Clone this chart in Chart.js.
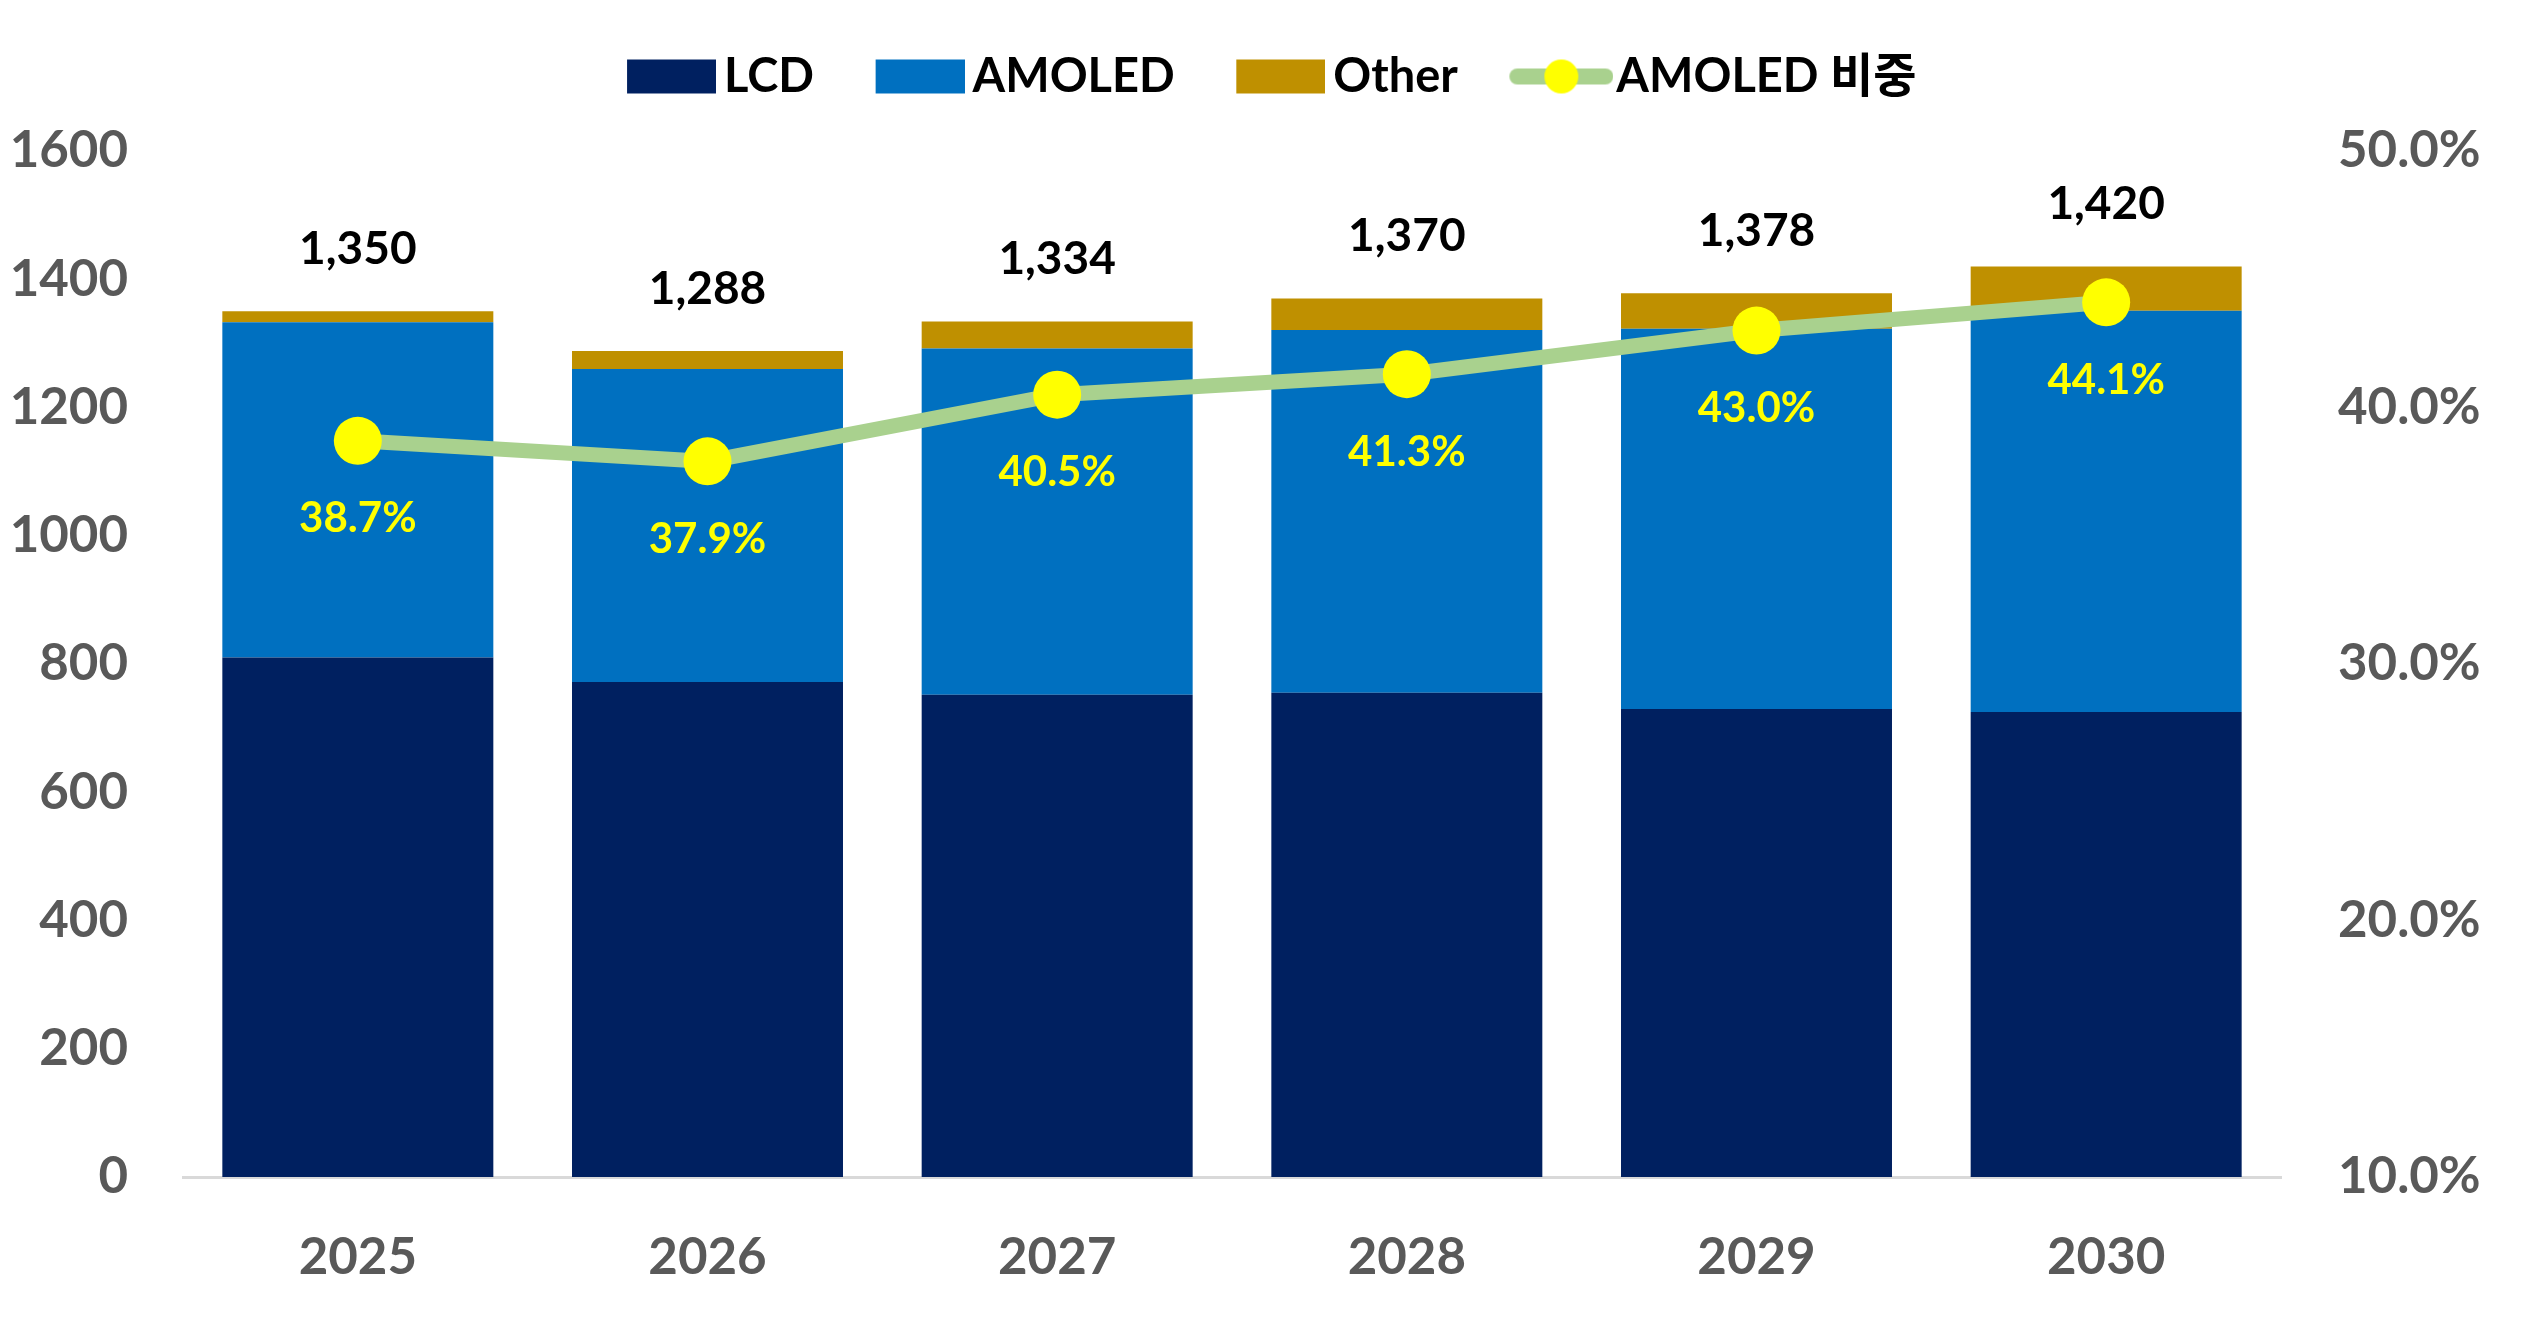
<!DOCTYPE html>
<html>
<head>
<meta charset="utf-8">
<script src="https://cdn.jsdelivr.net/npm/chart.js@4.4.1/dist/chart.umd.min.js"></script>
<style>
  html, body { margin: 0; padding: 0; background: #fff; }
  #wrap { width: 2534px; height: 1323px; position: relative; }
</style>
</head>
<body>
<div id="wrap"><canvas id="chartDisplay"></canvas></div>
<script>
var years = ['2025', '2026', '2027', '2028', '2029', '2030'];
var lcd = [810, 772, 752, 755, 730, 725];
var amoled = [523, 488, 540, 566, 593, 626];
var other = [17, 28, 42, 49, 55, 69];
var amoledShare = [38.7, 37.9, 40.5, 41.3, 43.0, 44.1];
var leftTicks = [0, 200, 400, 600, 800, 1000, 1200, 1400, 1600];
var rightTicks = [10, 20, 30, 40, 50];

(function() {
  var FAMILY = "Lato, 'Noto Sans CJK KR', sans-serif";
  var GRAY = '#595959';
  var colors = { lcd: '#002060', amoled: '#0070C0', other: '#BF9000', line: '#A9D18E', dot: '#FFFF00' };

  // legend icons, drawn centred on the point-style box
  function boxIcon(color) {
    var c = document.createElement('canvas');
    c.width = 114; c.height = 36;
    var g = c.getContext('2d');
    g.fillStyle = color;
    g.fillRect(25, 1, 89, 34);
    return c;
  }
  function lineIcon() {
    var c = document.createElement('canvas');
    c.width = 124; c.height = 40;
    var g = c.getContext('2d');
    g.strokeStyle = colors.line;
    g.lineWidth = 16;
    g.lineCap = 'round';
    g.beginPath(); g.moveTo(28, 20); g.lineTo(116, 20); g.stroke();
    g.fillStyle = colors.dot;
    g.beginPath(); g.arc(72, 20, 17, 0, Math.PI * 2); g.fill();
    return c;
  }

  var legendGap = {
    id: 'legendGap',
    beforeInit: function(chart) {
      var fit = chart.legend.fit;
      chart.legend.fit = function() { fit.call(this); this.height += 41; };
    }
  };

  var valueLabels = {
    id: 'valueLabels',
    afterDatasetsDraw: function(chart) {
      var ctx = chart.ctx;
      var top = chart.getDatasetMeta(2).data;
      var pts = chart.getDatasetMeta(3).data;
      ctx.save();
      ctx.textAlign = 'center';
      ctx.textBaseline = 'middle';
      ctx.font = 'bold 46px ' + FAMILY;
      ctx.fillStyle = '#000000';
      top.forEach(function(bar, i) {
        var total = lcd[i] + amoled[i] + other[i];
        ctx.fillText(total.toLocaleString('en-US'), bar.x, bar.y - 62);
      });
      ctx.font = 'bold 42px ' + FAMILY;
      ctx.fillStyle = colors.dot;
      pts.forEach(function(p, i) {
        ctx.fillText(amoledShare[i].toFixed(1) + '%', p.x, p.y + 78);
      });
      ctx.restore();
    }
  };

  function build() {
    var icons = [boxIcon(colors.lcd), boxIcon(colors.amoled), boxIcon(colors.other), lineIcon()];
    var tickFont = { family: FAMILY, weight: 'bold', size: 51 };

    new Chart(document.getElementById('chartDisplay'), {
      data: {
        labels: years,
        datasets: [
          { type: 'bar', label: 'LCD', data: lcd, backgroundColor: colors.lcd, stack: 's', order: 1, yAxisID: 'y' },
          { type: 'bar', label: 'AMOLED', data: amoled, backgroundColor: colors.amoled, stack: 's', order: 1, yAxisID: 'y' },
          { type: 'bar', label: 'Other', data: other, backgroundColor: colors.other, stack: 's', order: 1, yAxisID: 'y' },
          {
            type: 'line', label: 'AMOLED 비중', data: amoledShare, yAxisID: 'y1', order: 0,
            borderColor: colors.line, borderWidth: 15, tension: 0,
            pointRadius: 24, pointHoverRadius: 24, pointBackgroundColor: colors.dot, pointBorderWidth: 0
          }
        ]
      },
      options: {
        responsive: true,
        maintainAspectRatio: false,
        animation: false,
        devicePixelRatio: 1,
        layout: { padding: { top: 1, left: 0, right: 0, bottom: 0 } },
        datasets: { bar: { barPercentage: 0.775, categoryPercentage: 1 } },
        plugins: {
          tooltip: { enabled: false },
          legend: {
            position: 'top',
            labels: {
              usePointStyle: true,
              pointStyleWidth: 83,
              padding: 52,
              color: '#000000',
              font: { family: FAMILY, weight: 'bold', size: 47 },
              generateLabels: function(chart) {
                return chart.data.datasets.map(function(ds, i) {
                  return { text: ds.label, pointStyle: icons[i], fontColor: '#000000', lineWidth: 0, hidden: false, datasetIndex: i };
                });
              }
            }
          }
        },
        scales: {
          x: {
            grid: { display: false, drawTicks: false },
            border: { color: '#D9D9D9', width: 3 },
            ticks: { color: GRAY, font: tickFont, padding: 50 },
            afterFit: function(s) { s.height = 146; }
          },
          y: {
            position: 'left',
            stacked: true,
            min: 0, max: 1600,
            grid: { display: false, drawTicks: false },
            border: { display: false },
            afterBuildTicks: function(s) { s.ticks = leftTicks.map(function(v) { return { value: v }; }); },
            ticks: { color: GRAY, font: tickFont, padding: 55, callback: function(v) { return String(v); } },
            afterFit: function(s) { s.width = 183; }
          },
          y1: {
            position: 'right',
            min: 10, max: 50,
            grid: { display: false, drawTicks: false },
            border: { display: false },
            afterBuildTicks: function(s) { s.ticks = rightTicks.map(function(v) { return { value: v }; }); },
            ticks: { color: GRAY, font: tickFont, padding: 57, callback: function(v) { return v.toFixed(1) + '%'; } },
            afterFit: function(s) { s.width = 253; }
          }
        }
      },
      plugins: [legendGap, valueLabels]
    });
  }

  var loads = [
    document.fonts.load('bold 47px Lato'),
    document.fonts.load("bold 47px 'Noto Sans CJK KR'", '비중')
  ];
  Promise.all(loads).then(build, build);
})();
</script>
</body>
</html>
